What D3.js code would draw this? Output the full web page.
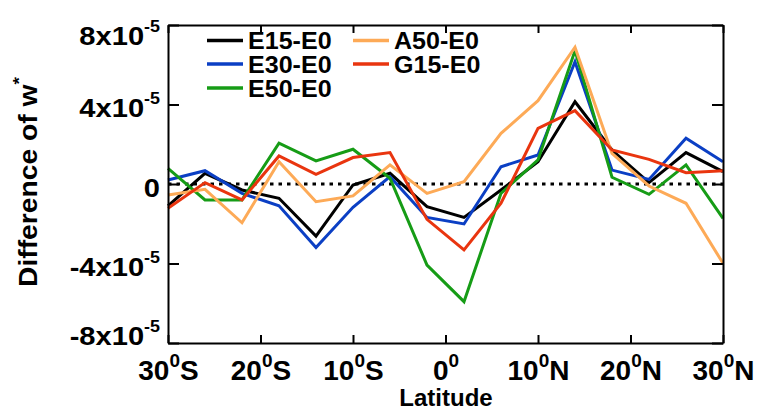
<!DOCTYPE html>
<html>
<head>
<meta charset="utf-8">
<script src="https://cdn.jsdelivr.net/npm/d3@7"></script>
<style>
  body { margin: 0; background: #fff; }
  svg { display: block; font-family: "Liberation Sans", Arial, sans-serif; font-weight: bold; }
</style>
</head>
<body>
<div id="chart"></div>
<script>
  // latitude of each point (deg, negative = south)
  const latitudes = [-30, -26, -22, -18, -14, -10, -6, -2, 2, 6, 10, 14, 18, 22, 26, 30]

  // differences of w*, in units of 1e-5
  const e15 = [-1.1, 0.54, -0.3, -0.72, -2.62, -0.05, 0.54, -1.14, -1.68, -0.3, 1.12, 4.14, 1.71, 0.07, 1.58, 0.62]
  const e30 = [0.2, 0.67, -0.47, -1.1, -3.19, -1.17, 0.37, -1.68, -2.01, 0.87, 1.46, 6.15, 0.7, 0.23, 2.3, 1.12]
  const e50 = [0.79, -0.8, -0.8, 2.05, 1.16, 1.75, 0.29, -4.08, -5.92, -0.47, 1.21, 6.71, 0.34, -0.52, 0.96, -1.73]
  const a50 = [-0.55, -0.27, -1.95, 1.12, -0.89, -0.6, 0.96, -0.47, 0.12, 2.55, 4.19, 6.88, 1.54, -0.1, -0.97, -3.99]
  const g15 = [-1.22, 0.07, -0.8, 1.41, 0.49, 1.33, 1.58, -1.78, -3.32, -0.97, 2.8, 3.69, 1.71, 1.24, 0.57, 0.67]

  const seriesNames = ["E15-E0", "E30-E0", "E50-E0", "A50-E0", "G15-E0"]
  const seriesValues = [e15, e30, e50, a50, g15]
  const seriesColors = ["#000000", "#0b3fc4", "#169c16", "#fdaa57", "#e9350f"]

  const xTicks = [-30, -20, -10, 0, 10, 20, 30]
  const yTicks = [-8, -4, 0, 4, 8]

  const width = 757, height = 412
  const plotLeft = 168, plotRight = 723, plotTop = 25, plotBottom = 343

  const svg = d3.select("#chart")
    .append("svg")
    .attr("width", width)
    .attr("height", height)

  const x = d3.scaleLinear().domain([-30, 30]).range([plotLeft, plotRight])
  const y = d3.scaleLinear().domain([-8, 8]).range([plotBottom, plotTop])

  // zero line
  svg.append("line")
    .attr("x1", x(-30)).attr("x2", x(30))
    .attr("y1", y(0)).attr("y2", y(0))
    .attr("stroke", "#000")
    .attr("stroke-width", 3)
    .attr("stroke-dasharray", "3.5,5")

  // series lines
  const line = d3.line()
    .x((d, i) => x(latitudes[i]))
    .y(d => y(d))

  svg.append("g")
    .selectAll("path")
    .data(seriesValues)
    .join("path")
      .attr("fill", "none")
      .attr("stroke", (d, i) => seriesColors[i])
      .attr("stroke-width", 3)
      .attr("stroke-linejoin", "miter")
      .attr("d", line)

  // axes, ticks pointing inward
  const styleAxis = g => {
    g.select(".domain").attr("stroke-width", 2)
    g.selectAll(".tick line").attr("stroke-width", 2)
  }

  const xBottom = svg.append("g")
    .attr("transform", `translate(0,${plotBottom})`)
    .call(d3.axisBottom(x).tickValues(xTicks).tickSizeInner(-8).tickSizeOuter(0).tickPadding(8))
    .call(styleAxis)

  svg.append("g")
    .attr("transform", `translate(0,${plotTop})`)
    .call(d3.axisTop(x).tickValues(xTicks).tickSizeInner(-8).tickSizeOuter(0).tickFormat(""))
    .call(styleAxis)

  const yLeft = svg.append("g")
    .attr("transform", `translate(${plotLeft},0)`)
    .call(d3.axisLeft(y).tickValues(yTicks).tickSizeInner(-11).tickSizeOuter(0).tickPadding(8))
    .call(styleAxis)

  svg.append("g")
    .attr("transform", `translate(${plotRight},0)`)
    .call(d3.axisRight(y).tickValues(yTicks).tickSizeInner(-11).tickSizeOuter(0).tickFormat(""))
    .call(styleAxis)

  // x tick labels like 30⁰S
  xBottom.selectAll(".tick text")
    .text(null)
    .attr("y", 37)
    .attr("dy", null)
    .attr("font-size", 28)
    .attr("fill", "#000")
    .each(function(d) {
      const t = d3.select(this)
      t.append("tspan").text(Math.abs(d))
      t.append("tspan").attr("font-size", 19).attr("dy", -13).text("0")
      if (d !== 0) t.append("tspan").attr("dy", 13).text(d < 0 ? "S" : "N")
    })

  // y tick labels like 4x10⁻⁵
  const stretch = 1.12
  yLeft.selectAll(".tick text")
    .text(null)
    .attr("x", -8 / stretch)
    .attr("dy", null)
    .attr("y", d => d === 8 ? 19 : d === -8 ? 1 : 12)
    .attr("transform", `scale(${stretch},1)`)
    .attr("font-size", 26)
    .attr("fill", "#000")
    .each(function(d) {
      const t = d3.select(this)
      if (d === 0) { t.text("0"); return }
      t.append("tspan").text(`${d}x10`)
      t.append("tspan").attr("font-size", 16).attr("dy", -13).text("-5")
    })

  // axis titles
  svg.append("text")
    .attr("x", 446)
    .attr("y", 406)
    .attr("text-anchor", "middle")
    .attr("font-size", 24)
    .text("Latitude")

  const yTitle = svg.append("text")
    .attr("transform", `translate(37,182) rotate(-90) scale(1.13,1)`)
    .attr("text-anchor", "middle")
    .attr("font-size", 25)
  yTitle.append("tspan").text("Difference of w")
  yTitle.append("tspan").attr("font-size", 17).attr("dy", -12).text("*")

  // legend, two columns
  const legendCols = [[0, 1, 2], [3, 4]]
  const colX = [207, 353]
  const rowY = [40.5, 64, 88]

  legendCols.forEach((items, c) => {
    const g = svg.append("g")
      .selectAll("g")
      .data(items)
      .join("g")
        .attr("transform", (d, r) => `translate(${colX[c]},${rowY[r]})`)
    g.append("line")
      .attr("x1", 0).attr("x2", 36)
      .attr("stroke", d => seriesColors[d])
      .attr("stroke-width", 3.5)
    g.append("text")
      .attr("transform", "translate(41,8.5) scale(1.09,1)")
      .attr("font-size", 23)
      .text(d => seriesNames[d])
  })
</script>
</body>
</html>
